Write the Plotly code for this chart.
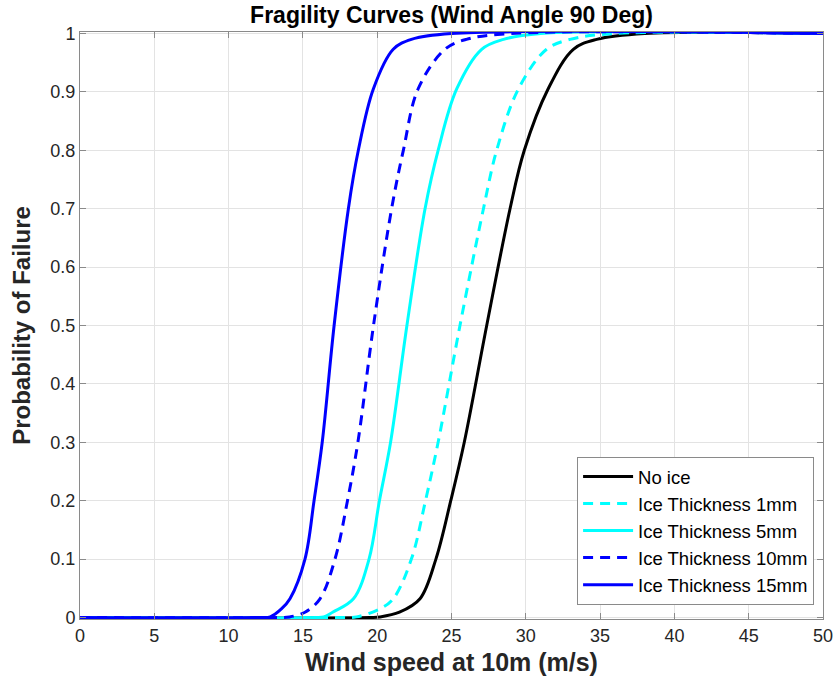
import plotly.graph_objects as go

# Wind speed at 10 m (m/s) and probability of failure for each ice case
no_ice_speed = [0, 19.5, 20.2, 21.5, 22.88, 23.95, 24.95, 25.86, 27.37, 28.94, 29.9, 31.5, 33.2, 34.77, 38.0, 50]
no_ice_prob = [0, 0, 0.001, 0.009, 0.032, 0.1, 0.2, 0.3, 0.5, 0.7, 0.8, 0.905, 0.973, 0.99, 1.0, 1.0]

ice1_speed = [0, 17.5, 18.6, 20.2, 21.08, 22.3, 23.25, 24.1, 25.57, 27.15, 28.04, 29.5, 31.4, 32.98, 36.0, 50]
ice1_prob = [0, 0, 0.001, 0.015, 0.032, 0.1, 0.2, 0.3, 0.5, 0.7, 0.8, 0.905, 0.973, 0.99, 1.0, 1.0]

ice5_speed = [0, 15.8, 16.4, 17.0, 18.4, 19.45, 20.15, 20.9, 22.0, 23.22, 24.1, 25.35, 27.03, 28.5, 31.0, 50]
ice5_prob = [0, 0, 0.001, 0.009, 0.032, 0.1, 0.2, 0.3, 0.5, 0.7, 0.8, 0.905, 0.973, 0.99, 1.0, 1.0]

ice10_speed = [0, 13.5, 14.1, 15.14, 16.15, 17.16, 18.0, 18.7, 19.75, 20.97, 21.76, 22.75, 24.56, 26.0, 29.0, 50]
ice10_prob = [0, 0, 0.001, 0.009, 0.032, 0.1, 0.2, 0.3, 0.5, 0.7, 0.8, 0.905, 0.973, 0.99, 1.0, 1.0]

ice15_speed = [0, 12.0, 12.8, 13.57, 14.13, 15.14, 15.75, 16.3, 17.1, 18.06, 18.73, 19.74, 21.08, 22.3, 25.0, 50]
ice15_prob = [0, 0, 0.001, 0.015, 0.032, 0.1, 0.2, 0.3, 0.5, 0.7, 0.8, 0.905, 0.973, 0.99, 1.0, 1.0]

series = [
    ("No ice", no_ice_speed, no_ice_prob, "#000000", "solid"),
    ("Ice Thickness 1mm", ice1_speed, ice1_prob, "#00FFFF", "10px,7px"),
    ("Ice Thickness 5mm", ice5_speed, ice5_prob, "#00FFFF", "solid"),
    ("Ice Thickness 10mm", ice10_speed, ice10_prob, "#0000FF", "10px,7px"),
    ("Ice Thickness 15mm", ice15_speed, ice15_prob, "#0000FF", "solid"),
]

x_ticks = list(range(0, 51, 5))
y_ticks = [i / 10 for i in range(11)]
y_tick_text = ["0", "0.1", "0.2", "0.3", "0.4", "0.5", "0.6", "0.7", "0.8", "0.9", "1"]

fig = go.Figure()
for name, xs, ys, color, dash in series:
    fig.add_trace(go.Scatter(
        x=xs, y=ys, mode="lines", name=name,
        line=dict(color=color, width=3, dash=dash, shape="spline", smoothing=1.0),
    ))

font_family = "Liberation Sans, Arial, sans-serif"
axis_common = dict(
    showline=True, linecolor="#8a8a8a", linewidth=1, mirror="ticks",
    ticks="inside", ticklen=6, tickcolor="#8a8a8a",
    showgrid=True, gridcolor="#e3e3e3", gridwidth=1, zeroline=False,
    automargin=False,
    tickfont=dict(family=font_family, size=18, color="#262626"),
)

fig.update_layout(
    width=837, height=688,
    margin=dict(l=80, r=14, t=32, b=69),
    paper_bgcolor="white", plot_bgcolor="white",
    title=dict(
        text="<b>Fragility Curves (Wind Angle 90 Deg)</b>",
        x=(80 + 823) / 2 / 837, xanchor="center", y=1 - 15 / 688, yanchor="middle",
        font=dict(family=font_family, size=23, color="#000000"),
    ),
    xaxis=dict(
        range=[0, 50], tickvals=x_ticks,
        title=dict(text="<b>Wind speed at 10m (m/s)</b>", standoff=8,
                   font=dict(family=font_family, size=25, color="#262626")),
        **axis_common,
    ),
    yaxis=dict(
        # a hair of padding keeps the 0 and 1 plateaus from being clipped by the frame
        range=[-0.0026, 1.0026], tickvals=y_ticks, ticktext=y_tick_text,
        title=dict(text="<b>Probability of Failure</b>", standoff=12,
                   font=dict(family=font_family, size=24, color="#262626")),
        **axis_common,
    ),
    legend=dict(
        x=0.988, xanchor="right", y=0.024, yanchor="bottom",
        bgcolor="white", bordercolor="#8a8a8a", borderwidth=1,
        font=dict(family=font_family, size=18.5, color="#000000"),
        tracegroupgap=0, itemwidth=50,
    ),
    showlegend=True,
)

fig.write_html("out.html")
